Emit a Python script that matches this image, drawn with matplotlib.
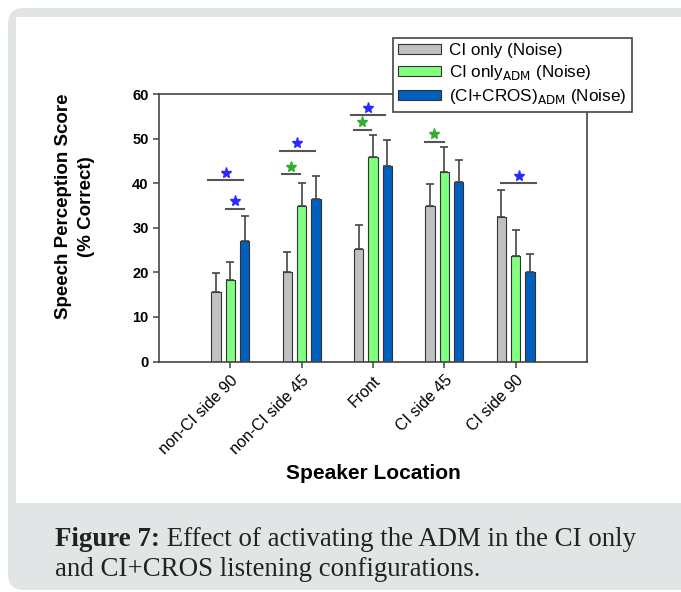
import numpy as np
import matplotlib.pyplot as plt
from matplotlib.patches import FancyBboxPatch, Rectangle

# data
locations = ['non-CI side 90', 'non-CI side 45', 'Front', 'CI side 45', 'CI side 90']
ci_only = [15.7, 20.2, 25.2, 34.9, 32.4]
ci_only_err = [4.1, 4.3, 5.5, 4.9, 6.0]
ci_adm = [18.3, 34.9, 45.9, 42.5, 23.6]
ci_adm_err = [4.0, 5.1, 5.0, 5.7, 6.0]
cros_adm = [27.1, 36.5, 44.0, 40.2, 20.0]
cros_adm_err = [5.6, 5.1, 5.7, 5.1, 4.1]

# significance bars: (location index, start, end, level, star colour)
sig = [(0, -0.31, 0.18, 40.7, 'b'),
       (0, -0.06, 0.19, 34.3, 'b'),
       (1, -0.30, 0.18, 47.3, 'b'),
       (1, -0.27, -0.03, 42.0, 'g'),
       (2, -0.31, 0.17, 55.3, 'b'),
       (2, -0.27, -0.03, 52.0, 'g'),
       (3, -0.27, -0.01, 49.3, 'g'),
       (4, -0.20, 0.29, 40.0, 'b')]
star_col = {'b': '#2a2aff', 'g': '#2fae2f'}

plt.rcParams['font.family'] = ['Liberation Sans', 'DejaVu Sans']

fig = plt.figure(figsize=(6.81, 5.92), dpi=100)

# page background: grey rounded panel with white plot area
bg = fig.add_axes([0, 0, 1, 1])
bg.set_xlim(0, 681)
bg.set_ylim(592, 0)
bg.axis('off')
bg.add_patch(FancyBboxPatch((8, 8), 700, 582, boxstyle='round,pad=0,rounding_size=16',
                            facecolor='#e1e5e6', edgecolor='none'))
bg.add_patch(Rectangle((16, 17), 680, 486, facecolor='white', edgecolor='none'))

t1 = bg.text(55, 546, 'Figure 7:', family='Liberation Serif', fontsize=19.4,
             fontweight='bold', color='#222222', va='baseline')
bg.annotate(' Effect of activating the ADM in the CI only', xy=(1, 0), xycoords=t1,
            va='bottom', family='Liberation Serif', fontsize=19.4, color='#222222')
bg.text(55, 576, 'and CI+CROS listening configurations.', family='Liberation Serif',
        fontsize=19.4, color='#222222', va='baseline')

ax = fig.add_axes([159/681, 1-361.5/592, 428/681, 267.2/592])
x = np.arange(len(locations))
w = 0.13
ekw = dict(ecolor='#444444', elinewidth=1.2, capthick=1.2)
z = np.zeros(len(x))
ax.bar(x-0.2, ci_only, w, yerr=[z, ci_only_err], capsize=3, color='#c0c0c0',
       edgecolor='#333333', linewidth=0.8, error_kw=ekw, label='CI only (Noise)')
ax.bar(x, ci_adm, w, yerr=[z, ci_adm_err], capsize=3, color='#80ff80',
       edgecolor='#333333', linewidth=0.8, error_kw=ekw, label='CI only$_{\\mathsf{ADM}}$ (Noise)')
ax.bar(x+0.2, cros_adm, w, yerr=[z, cros_adm_err], capsize=3, color='#0060c0',
       edgecolor='#333333', linewidth=0.8, error_kw=ekw,
       label='(CI+CROS)$_{\\mathsf{ADM}}$ (Noise)')

for i, x0, x1, lev, c in sig:
    ax.plot([i+x0, i+x1], [lev, lev], color='#555555', lw=1.5)
    ax.plot(i+(x0+x1)/2, lev+1.7, marker='*', ms=8, color=star_col[c], mec=star_col[c])

ax.set_xlim(-1, 5)
ax.set_ylim(0, 60)
ax.set_yticks(range(0, 61, 10))
ax.set_yticklabels([str(v) for v in range(0, 61, 10)], fontweight='bold', fontsize=10.5)
ax.set_xticks(x)
ax.set_xticklabels(locations, rotation=45, ha='right', va='top', fontsize=11.5,
                   rotation_mode='anchor')
ax.tick_params(axis='both', direction='out', length=4, width=1.1, color='#444444')
ax.tick_params(axis='x', pad=4)
for s in ax.spines.values():
    s.set_color('#444444')
    s.set_linewidth(1.2)

ax.set_ylabel('Speech Perception Score\n(% Correct)', fontsize=13.5, fontweight='bold',
              linespacing=1.45)
ax.yaxis.set_label_coords(-0.15, 0.58)
ax.set_xlabel('Speaker Location', fontsize=15, fontweight='bold', labelpad=5)

leg = ax.legend(loc='upper left', bbox_to_anchor=(393/681, 1-38/592),
                bbox_transform=fig.transFigure, fontsize=12.3, fancybox=False,
                edgecolor='#444444', framealpha=1, handlelength=2.5, borderaxespad=0,
                handleheight=0.55, labelspacing=0.3, borderpad=0.3, handletextpad=0.5)
leg.get_frame().set_linewidth(1.2)

plt.savefig('out.png', dpi=100)
